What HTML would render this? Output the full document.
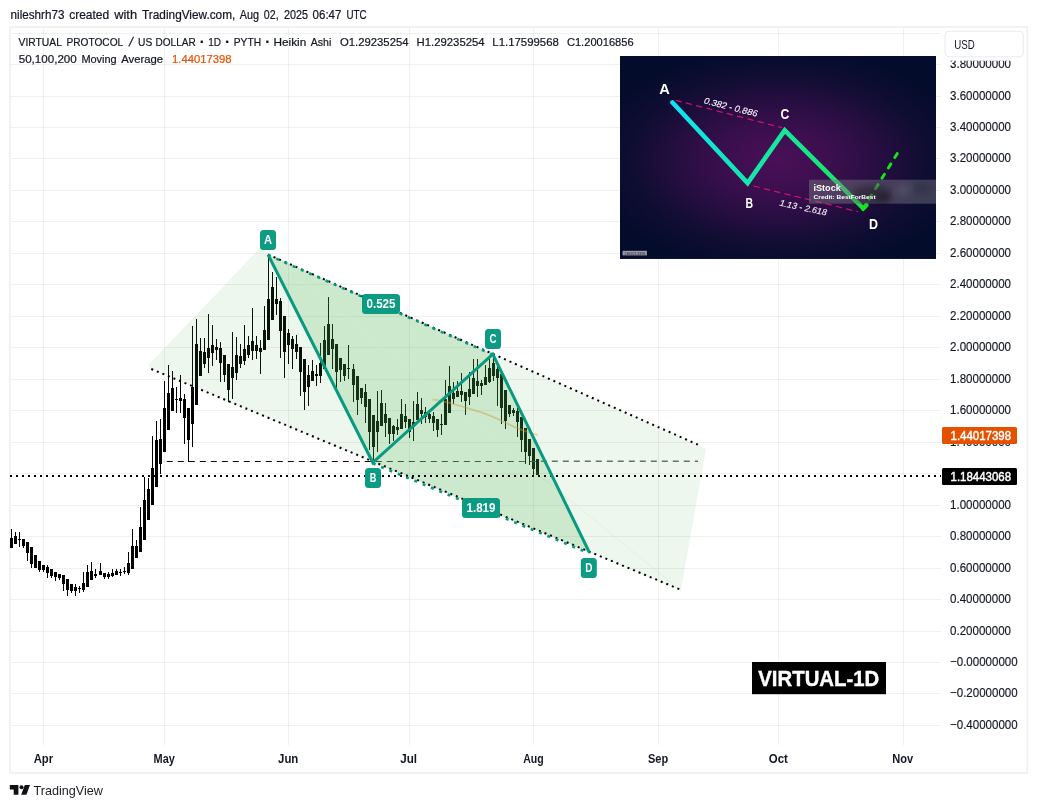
<!DOCTYPE html>
<html lang="en"><head><meta charset="utf-8"><title>VIRTUAL-1D</title>
<style>
html,body{margin:0;padding:0;background:#fff;}
body{width:1037px;height:808px;overflow:hidden;font-family:'Liberation Sans', sans-serif;}
svg{display:block;position:absolute;left:0;top:0;}
text{font-family:'Liberation Sans', sans-serif;}
</style></head><body>
<svg width="1037" height="808" viewBox="0 0 1037 808">
<defs>
<radialGradient id="bgInset" gradientUnits="userSpaceOnUse" cx="0" cy="0" r="1" gradientTransform="translate(779 160) scale(196 116)">
<stop offset="0" stop-color="#4a0f58"/><stop offset="0.25" stop-color="#3d0f4f"/><stop offset="0.5" stop-color="#280e42"/><stop offset="0.75" stop-color="#0f0d32"/><stop offset="1" stop-color="#030c2a"/>
</radialGradient>
<filter id="blur3" x="-30%" y="-30%" width="160%" height="160%"><feGaussianBlur stdDeviation="3"/></filter>
<linearGradient id="abcd" gradientUnits="userSpaceOnUse" x1="672" y1="0" x2="864" y2="0">
<stop offset="0" stop-color="#10e0fa"/><stop offset="0.12" stop-color="#12e4e0"/><stop offset="0.35" stop-color="#14e6b4"/><stop offset="0.6" stop-color="#16e896"/><stop offset="0.85" stop-color="#18e66a"/><stop offset="1" stop-color="#1ee23a"/>
</linearGradient>
<linearGradient id="dashg" gradientUnits="userSpaceOnUse" x1="166" y1="0" x2="698" y2="0">
<stop offset="0" stop-color="#0a0a0a"/><stop offset="0.388" stop-color="#0a0a0a"/><stop offset="0.39" stop-color="#2c3a2d"/><stop offset="0.70" stop-color="#3a4a3b"/><stop offset="0.71" stop-color="#66746a"/><stop offset="1" stop-color="#66746a"/>
</linearGradient>
<clipPath id="plot"><rect x="10" y="27" width="931" height="718"/></clipPath>
<clipPath id="axisclip"><rect x="941" y="60.8" width="86" height="700"/></clipPath>
<clipPath id="insetclip"><rect x="620" y="56" width="316" height="203"/></clipPath>
</defs>
<rect width="1037" height="808" fill="#ffffff"/>

<g fill="#000" fill-opacity="0.06" shape-rendering="crispEdges">
<rect x="11" y="33" width="930" height="1"/>
<rect x="11" y="64" width="930" height="1"/>
<rect x="11" y="96" width="930" height="1"/>
<rect x="11" y="127" width="930" height="1"/>
<rect x="11" y="158" width="930" height="1"/>
<rect x="11" y="190" width="930" height="1"/>
<rect x="11" y="221" width="930" height="1"/>
<rect x="11" y="253" width="930" height="1"/>
<rect x="11" y="284" width="930" height="1"/>
<rect x="11" y="316" width="930" height="1"/>
<rect x="11" y="347" width="930" height="1"/>
<rect x="11" y="379" width="930" height="1"/>
<rect x="11" y="410" width="930" height="1"/>
<rect x="11" y="442" width="930" height="1"/>
<rect x="11" y="473" width="930" height="1"/>
<rect x="11" y="505" width="930" height="1"/>
<rect x="11" y="536" width="930" height="1"/>
<rect x="11" y="568" width="930" height="1"/>
<rect x="11" y="599" width="930" height="1"/>
<rect x="11" y="631" width="930" height="1"/>
<rect x="11" y="662" width="930" height="1"/>
<rect x="11" y="693" width="930" height="1"/>
<rect x="11" y="725" width="930" height="1"/>
<rect x="43" y="28" width="1" height="717"/>
<rect x="164" y="28" width="1" height="717"/>
<rect x="288" y="28" width="1" height="717"/>
<rect x="409" y="28" width="1" height="717"/>
<rect x="533" y="28" width="1" height="717"/>
<rect x="658" y="28" width="1" height="717"/>
<rect x="778" y="28" width="1" height="717"/>
<rect x="903" y="28" width="1" height="717"/>
</g>
<g clip-path="url(#plot)" fill="#000" stroke="none" shape-rendering="crispEdges">
<rect x="11" y="529" width="1" height="19"/>
<rect x="10" y="538" width="3" height="10"/>
<rect x="15" y="532" width="1" height="12"/>
<rect x="14" y="536" width="3" height="8"/>
<rect x="19" y="532" width="1" height="15"/>
<rect x="18" y="539" width="3" height="1"/>
<rect x="23" y="539" width="1" height="9"/>
<rect x="22" y="539" width="3" height="7"/>
<rect x="27" y="542" width="1" height="19"/>
<rect x="26" y="542" width="3" height="11"/>
<rect x="31" y="547" width="1" height="21"/>
<rect x="30" y="547" width="3" height="17"/>
<rect x="35" y="555" width="1" height="13"/>
<rect x="34" y="555" width="3" height="13"/>
<rect x="39" y="561" width="1" height="11"/>
<rect x="38" y="561" width="3" height="9"/>
<rect x="43" y="565" width="1" height="7"/>
<rect x="42" y="565" width="3" height="5"/>
<rect x="47" y="565" width="1" height="13"/>
<rect x="46" y="567" width="3" height="6"/>
<rect x="51" y="569" width="1" height="9"/>
<rect x="50" y="569" width="3" height="7"/>
<rect x="55" y="572" width="1" height="9"/>
<rect x="54" y="572" width="3" height="5"/>
<rect x="59" y="574" width="1" height="6"/>
<rect x="58" y="574" width="3" height="4"/>
<rect x="63" y="575" width="1" height="16"/>
<rect x="62" y="575" width="3" height="9"/>
<rect x="67" y="579" width="1" height="17"/>
<rect x="66" y="579" width="3" height="11"/>
<rect x="71" y="584" width="1" height="9"/>
<rect x="70" y="584" width="3" height="7"/>
<rect x="75" y="584" width="1" height="12"/>
<rect x="74" y="587" width="3" height="4"/>
<rect x="79" y="586" width="1" height="7"/>
<rect x="78" y="588" width="3" height="1"/>
<rect x="83" y="572" width="1" height="20"/>
<rect x="82" y="583" width="3" height="7"/>
<rect x="87" y="565" width="1" height="22"/>
<rect x="86" y="572" width="3" height="15"/>
<rect x="91" y="562" width="1" height="18"/>
<rect x="90" y="571" width="3" height="9"/>
<rect x="95" y="569" width="1" height="9"/>
<rect x="94" y="574" width="3" height="2"/>
<rect x="100" y="563" width="1" height="12"/>
<rect x="99" y="571" width="3" height="4"/>
<rect x="104" y="573" width="1" height="6"/>
<rect x="103" y="573" width="3" height="4"/>
<rect x="108" y="572" width="1" height="7"/>
<rect x="107" y="574" width="3" height="3"/>
<rect x="112" y="569" width="1" height="8"/>
<rect x="111" y="573" width="3" height="3"/>
<rect x="116" y="569" width="1" height="6"/>
<rect x="115" y="571" width="3" height="4"/>
<rect x="120" y="569" width="1" height="7"/>
<rect x="119" y="572" width="3" height="1"/>
<rect x="124" y="567" width="1" height="7"/>
<rect x="123" y="571" width="3" height="1"/>
<rect x="128" y="552" width="1" height="23"/>
<rect x="127" y="563" width="3" height="10"/>
<rect x="132" y="529" width="1" height="40"/>
<rect x="131" y="546" width="3" height="23"/>
<rect x="136" y="540" width="1" height="18"/>
<rect x="135" y="546" width="3" height="12"/>
<rect x="140" y="507" width="1" height="45"/>
<rect x="139" y="527" width="3" height="25"/>
<rect x="144" y="477" width="1" height="63"/>
<rect x="143" y="500" width="3" height="40"/>
<rect x="148" y="478" width="1" height="42"/>
<rect x="147" y="489" width="3" height="31"/>
<rect x="152" y="436" width="1" height="69"/>
<rect x="151" y="468" width="3" height="37"/>
<rect x="156" y="421" width="1" height="66"/>
<rect x="155" y="440" width="3" height="47"/>
<rect x="160" y="419" width="1" height="55"/>
<rect x="159" y="439" width="3" height="25"/>
<rect x="164" y="381" width="1" height="71"/>
<rect x="163" y="408" width="3" height="44"/>
<rect x="168" y="365" width="1" height="65"/>
<rect x="167" y="393" width="3" height="37"/>
<rect x="172" y="371" width="1" height="40"/>
<rect x="171" y="388" width="3" height="23"/>
<rect x="176" y="387" width="1" height="26"/>
<rect x="175" y="399" width="3" height="1"/>
<rect x="180" y="375" width="1" height="38"/>
<rect x="179" y="398" width="3" height="3"/>
<rect x="184" y="394" width="1" height="50"/>
<rect x="183" y="399" width="3" height="19"/>
<rect x="188" y="408" width="1" height="54"/>
<rect x="187" y="408" width="3" height="32"/>
<rect x="192" y="326" width="1" height="121"/>
<rect x="191" y="387" width="3" height="37"/>
<rect x="196" y="319" width="1" height="86"/>
<rect x="195" y="344" width="3" height="61"/>
<rect x="200" y="338" width="1" height="38"/>
<rect x="199" y="351" width="3" height="25"/>
<rect x="204" y="338" width="1" height="30"/>
<rect x="203" y="352" width="3" height="12"/>
<rect x="208" y="314" width="1" height="59"/>
<rect x="207" y="348" width="3" height="10"/>
<rect x="212" y="325" width="1" height="41"/>
<rect x="211" y="345" width="3" height="8"/>
<rect x="216" y="339" width="1" height="21"/>
<rect x="215" y="347" width="3" height="3"/>
<rect x="220" y="342" width="1" height="40"/>
<rect x="219" y="348" width="3" height="15"/>
<rect x="224" y="355" width="1" height="27"/>
<rect x="223" y="355" width="3" height="20"/>
<rect x="228" y="364" width="1" height="38"/>
<rect x="227" y="364" width="3" height="26"/>
<rect x="232" y="332" width="1" height="67"/>
<rect x="231" y="367" width="3" height="11"/>
<rect x="236" y="337" width="1" height="43"/>
<rect x="235" y="355" width="3" height="18"/>
<rect x="240" y="344" width="1" height="24"/>
<rect x="239" y="356" width="3" height="8"/>
<rect x="244" y="325" width="1" height="40"/>
<rect x="243" y="349" width="3" height="12"/>
<rect x="248" y="336" width="1" height="22"/>
<rect x="247" y="345" width="3" height="10"/>
<rect x="252" y="308" width="1" height="52"/>
<rect x="251" y="341" width="3" height="10"/>
<rect x="256" y="336" width="1" height="23"/>
<rect x="255" y="345" width="3" height="6"/>
<rect x="260" y="340" width="1" height="34"/>
<rect x="259" y="348" width="3" height="4"/>
<rect x="264" y="306" width="1" height="44"/>
<rect x="263" y="330" width="3" height="20"/>
<rect x="268" y="256" width="1" height="84"/>
<rect x="267" y="299" width="3" height="41"/>
<rect x="272" y="272" width="1" height="48"/>
<rect x="271" y="287" width="3" height="33"/>
<rect x="276" y="277" width="1" height="38"/>
<rect x="275" y="299" width="3" height="5"/>
<rect x="280" y="298" width="1" height="60"/>
<rect x="279" y="301" width="3" height="30"/>
<rect x="284" y="316" width="1" height="62"/>
<rect x="283" y="316" width="3" height="36"/>
<rect x="288" y="329" width="1" height="35"/>
<rect x="287" y="333" width="3" height="12"/>
<rect x="292" y="336" width="1" height="33"/>
<rect x="291" y="339" width="3" height="10"/>
<rect x="296" y="335" width="1" height="24"/>
<rect x="295" y="344" width="3" height="8"/>
<rect x="300" y="347" width="1" height="49"/>
<rect x="299" y="347" width="3" height="25"/>
<rect x="304" y="359" width="1" height="51"/>
<rect x="303" y="359" width="3" height="33"/>
<rect x="308" y="365" width="1" height="41"/>
<rect x="307" y="375" width="3" height="12"/>
<rect x="312" y="360" width="1" height="21"/>
<rect x="311" y="371" width="3" height="10"/>
<rect x="316" y="365" width="1" height="21"/>
<rect x="315" y="374" width="3" height="2"/>
<rect x="320" y="343" width="1" height="40"/>
<rect x="319" y="363" width="3" height="13"/>
<rect x="324" y="326" width="1" height="43"/>
<rect x="323" y="340" width="3" height="29"/>
<rect x="328" y="297" width="1" height="58"/>
<rect x="327" y="324" width="3" height="31"/>
<rect x="332" y="324" width="1" height="45"/>
<rect x="331" y="339" width="3" height="10"/>
<rect x="336" y="344" width="1" height="44"/>
<rect x="335" y="344" width="3" height="28"/>
<rect x="340" y="358" width="1" height="24"/>
<rect x="339" y="358" width="3" height="12"/>
<rect x="344" y="364" width="1" height="17"/>
<rect x="343" y="364" width="3" height="12"/>
<rect x="348" y="345" width="1" height="34"/>
<rect x="347" y="368" width="3" height="1"/>
<rect x="353" y="364" width="1" height="38"/>
<rect x="352" y="369" width="3" height="16"/>
<rect x="357" y="376" width="1" height="39"/>
<rect x="356" y="376" width="3" height="24"/>
<rect x="361" y="388" width="1" height="16"/>
<rect x="360" y="388" width="3" height="10"/>
<rect x="365" y="384" width="1" height="39"/>
<rect x="364" y="392" width="3" height="15"/>
<rect x="369" y="399" width="1" height="51"/>
<rect x="368" y="399" width="3" height="33"/>
<rect x="373" y="415" width="1" height="47"/>
<rect x="372" y="415" width="3" height="32"/>
<rect x="377" y="391" width="1" height="61"/>
<rect x="376" y="421" width="3" height="11"/>
<rect x="381" y="390" width="1" height="36"/>
<rect x="380" y="403" width="3" height="23"/>
<rect x="385" y="403" width="1" height="34"/>
<rect x="384" y="414" width="3" height="9"/>
<rect x="389" y="418" width="1" height="26"/>
<rect x="388" y="418" width="3" height="16"/>
<rect x="393" y="425" width="1" height="16"/>
<rect x="392" y="426" width="3" height="8"/>
<rect x="397" y="419" width="1" height="16"/>
<rect x="396" y="427" width="3" height="3"/>
<rect x="401" y="399" width="1" height="30"/>
<rect x="400" y="414" width="3" height="15"/>
<rect x="405" y="404" width="1" height="24"/>
<rect x="404" y="416" width="3" height="6"/>
<rect x="409" y="419" width="1" height="19"/>
<rect x="408" y="419" width="3" height="13"/>
<rect x="413" y="401" width="1" height="40"/>
<rect x="412" y="422" width="3" height="5"/>
<rect x="417" y="392" width="1" height="28"/>
<rect x="416" y="404" width="3" height="16"/>
<rect x="421" y="398" width="1" height="26"/>
<rect x="420" y="410" width="3" height="4"/>
<rect x="425" y="407" width="1" height="16"/>
<rect x="424" y="412" width="3" height="5"/>
<rect x="429" y="413" width="1" height="10"/>
<rect x="428" y="414" width="3" height="5"/>
<rect x="433" y="412" width="1" height="19"/>
<rect x="432" y="416" width="3" height="7"/>
<rect x="437" y="419" width="1" height="18"/>
<rect x="436" y="419" width="3" height="11"/>
<rect x="441" y="414" width="1" height="21"/>
<rect x="440" y="424" width="3" height="1"/>
<rect x="445" y="380" width="1" height="45"/>
<rect x="444" y="399" width="3" height="26"/>
<rect x="449" y="366" width="1" height="47"/>
<rect x="448" y="386" width="3" height="27"/>
<rect x="453" y="382" width="1" height="22"/>
<rect x="452" y="393" width="3" height="6"/>
<rect x="457" y="381" width="1" height="16"/>
<rect x="456" y="391" width="3" height="6"/>
<rect x="461" y="373" width="1" height="29"/>
<rect x="460" y="391" width="3" height="4"/>
<rect x="465" y="392" width="1" height="23"/>
<rect x="464" y="392" width="3" height="9"/>
<rect x="469" y="372" width="1" height="33"/>
<rect x="468" y="389" width="3" height="8"/>
<rect x="473" y="359" width="1" height="35"/>
<rect x="472" y="378" width="3" height="16"/>
<rect x="477" y="359" width="1" height="38"/>
<rect x="476" y="381" width="3" height="5"/>
<rect x="481" y="380" width="1" height="15"/>
<rect x="480" y="383" width="3" height="3"/>
<rect x="485" y="365" width="1" height="20"/>
<rect x="484" y="377" width="3" height="8"/>
<rect x="489" y="358" width="1" height="25"/>
<rect x="488" y="368" width="3" height="14"/>
<rect x="493" y="354" width="1" height="27"/>
<rect x="492" y="363" width="3" height="13"/>
<rect x="497" y="366" width="1" height="40"/>
<rect x="496" y="369" width="3" height="9"/>
<rect x="501" y="374" width="1" height="50"/>
<rect x="500" y="374" width="3" height="34"/>
<rect x="505" y="390" width="1" height="39"/>
<rect x="504" y="390" width="3" height="31"/>
<rect x="509" y="405" width="1" height="12"/>
<rect x="508" y="405" width="3" height="9"/>
<rect x="513" y="408" width="1" height="8"/>
<rect x="512" y="410" width="3" height="3"/>
<rect x="517" y="408" width="1" height="29"/>
<rect x="516" y="411" width="3" height="11"/>
<rect x="521" y="417" width="1" height="35"/>
<rect x="520" y="417" width="3" height="23"/>
<rect x="525" y="428" width="1" height="36"/>
<rect x="524" y="428" width="3" height="24"/>
<rect x="529" y="439" width="1" height="26"/>
<rect x="528" y="439" width="3" height="17"/>
<rect x="533" y="448" width="1" height="29"/>
<rect x="532" y="448" width="3" height="21"/>
<rect x="537" y="459" width="1" height="16"/>
<rect x="536" y="459" width="3" height="16"/>
</g>
<line x1="166.8" y1="461.5" x2="540" y2="461.5" stroke="url(#dashg)" stroke-width="1.1" stroke-dasharray="6 5"/>
<line x1="540.8" y1="461.3" x2="698" y2="461.3" stroke="#627066" stroke-width="1.6" stroke-dasharray="6 5"/>
<path d="M432.6 399.4 L438.7 400.5 L447.3 402.4 L456 404.8 L464.7 407.2 L473.3 409.8 L482 412.6 L490.7 415.9 L499.3 419.6 L504.7 422.3 L513 426.3 L522 430 L530 432.8 L537.6 435" fill="none" stroke="#ff963c" stroke-opacity="0.42" stroke-width="1.9" stroke-linejoin="round"/>
<polygon points="148.4,365.1 261,247 268.3,254 706,448.9 680.8,590.5 150.5,368.6" fill="#4caf50" fill-opacity="0.10"/>
<polygon points="268.0,254.5 372.8,462.5 492.8,354.2" fill="#4caf50" fill-opacity="0.2"/>
<polygon points="372.8,462.5 492.8,354.2 589.4,552.5" fill="#4caf50" fill-opacity="0.2"/>
<line x1="268.3" y1="254.5" x2="541" y2="476.6" stroke="#ffffff" stroke-opacity="0.12" stroke-width="1"/>
<line x1="541" y1="476.6" x2="680.8" y2="590.5" stroke="#4caf50" stroke-opacity="0.07" stroke-width="1"/>
<g stroke="#000" stroke-width="2" stroke-dasharray="2 4" fill="none">
<line x1="268.1" y1="254.5" x2="700.5" y2="445.8"/>
<line x1="151.3" y1="369" x2="679.8" y2="589.4"/>
<line x1="10" y1="475.9" x2="941" y2="475.9"/>
</g>
<g stroke="#089981" stroke-width="2.6" stroke-dasharray="3 6" fill="none">
<line x1="268.0" y1="255.0" x2="492.8" y2="354.7"/>
<line x1="372.8" y1="463.4" x2="589.4" y2="553.4"/>
</g>
<polyline points="268.0,254.5 372.8,462.5 492.8,354.2 589.4,552.5" fill="none" stroke="#089981" stroke-width="3" stroke-linejoin="miter"/>
<rect x="260" y="230" width="16" height="20" rx="3.5" fill="#089981" fill-opacity="0.98"/>
<text x="268.0" y="244.1" text-anchor="middle" font-size="12" font-weight="700" fill="#fff" textLength="8" lengthAdjust="spacingAndGlyphs">A</text>
<rect x="365" y="468" width="16" height="20" rx="3.5" fill="#089981" fill-opacity="0.98"/>
<text x="373.0" y="482.1" text-anchor="middle" font-size="12" font-weight="700" fill="#fff" textLength="6.6" lengthAdjust="spacingAndGlyphs">B</text>
<rect x="485" y="329" width="16" height="20" rx="3.5" fill="#089981" fill-opacity="0.98"/>
<text x="493.0" y="343.1" text-anchor="middle" font-size="12" font-weight="700" fill="#fff" textLength="7" lengthAdjust="spacingAndGlyphs">C</text>
<rect x="580.8" y="558" width="16" height="20" rx="3.5" fill="#089981" fill-opacity="0.98"/>
<text x="588.8" y="572.1" text-anchor="middle" font-size="12" font-weight="700" fill="#fff" textLength="7.2" lengthAdjust="spacingAndGlyphs">D</text>
<rect x="362" y="294" width="38" height="20" rx="3.5" fill="#089981" fill-opacity="0.98"/>
<text x="381.0" y="308.1" text-anchor="middle" font-size="12" font-weight="700" fill="#fff" textLength="29" lengthAdjust="spacingAndGlyphs">0.525</text>
<rect x="462" y="498" width="38" height="20" rx="3.5" fill="#089981" fill-opacity="0.98"/>
<text x="481.0" y="512.1" text-anchor="middle" font-size="12" font-weight="700" fill="#fff" textLength="29" lengthAdjust="spacingAndGlyphs">1.819</text>
<rect x="752" y="662" width="134" height="32.2" fill="#000"/>
<text x="818.8" y="685.8" text-anchor="middle" font-size="22.2" font-weight="700" fill="#fff" stroke="#fff" stroke-width="0.4" textLength="121" lengthAdjust="spacingAndGlyphs">VIRTUAL-1D</text>
<g clip-path="url(#insetclip)">
<rect x="620" y="56" width="316.3" height="202.8" fill="#030b27"/>
<rect x="620" y="56" width="316.3" height="202.8" fill="url(#bgInset)"/>
<g stroke="#d0106a" stroke-width="1.25" stroke-dasharray="6.3 4.3" fill="none"><line x1="675.5" y1="100.3" x2="782" y2="127.6"/><line x1="753.5" y1="186" x2="858" y2="211.7"/></g>
<polyline points="672.5,102.5 747.6,183 784.7,130.4 863.3,208.3 866.3,205.2" fill="none" stroke="url(#abcd)" stroke-width="4.6" stroke-linecap="round" stroke-linejoin="miter"/>
<line x1="897.6" y1="153" x2="862" y2="210.6" stroke="#12ea12" stroke-width="2.9" stroke-linecap="round" stroke-dasharray="4.8 7.4" stroke-dashoffset="-0.6"/>
<rect x="809" y="179.7" width="128" height="24" fill="#787882" fill-opacity="0.46"/>
<g filter="url(#blur3)"><ellipse cx="872" cy="194" rx="20" ry="9" fill="#000" fill-opacity="0.30"/><ellipse cx="884" cy="199" rx="7" ry="5" fill="#000" fill-opacity="0.3"/><ellipse cx="922" cy="188" rx="10" ry="7" fill="#000" fill-opacity="0.14"/><ellipse cx="903" cy="190" rx="6" ry="6" fill="#fff" fill-opacity="0.08"/></g>
<g fill="#fff" font-weight="700">
<text x="659.2" y="94" font-size="14.5" textLength="10.6" lengthAdjust="spacingAndGlyphs">A</text>
<text x="745.5" y="208.3" font-size="14.5" textLength="7.6" lengthAdjust="spacingAndGlyphs">B</text>
<text x="780.6" y="119.2" font-size="14.5" textLength="8.8" lengthAdjust="spacingAndGlyphs">C</text>
<text x="869" y="229.3" font-size="14.5" textLength="9" lengthAdjust="spacingAndGlyphs">D</text>
<text x="813.4" y="190.8" font-size="9.4" textLength="27.5" lengthAdjust="spacingAndGlyphs">iStock</text>
<text x="813.6" y="198.8" font-size="5.6" textLength="62" lengthAdjust="spacingAndGlyphs">Credit: BestForBest</text>
</g>
<g fill="#f6f0fa" stroke="#f6f0fa" stroke-width="0.12" font-style="italic" font-size="8.8">
<text transform="translate(703.4,103.3) rotate(14.2)" textLength="55" lengthAdjust="spacingAndGlyphs">0.382 - 0.886</text>
<text transform="translate(779.2,205.6) rotate(12)" textLength="48" lengthAdjust="spacingAndGlyphs">1.13 - 2.618</text>
</g>
<rect x="622.6" y="250.8" width="24.3" height="4.6" fill="#b6b6c2" fill-opacity="0.85"/>
<text x="624" y="254.6" font-size="3.6" fill="#222" textLength="21.5" lengthAdjust="spacingAndGlyphs">1366213396</text>
</g>
<rect x="10" y="27" width="1017.3" height="746" fill="none" stroke="#000" stroke-opacity="0.05" stroke-width="2"/>
<g font-size="12.6" fill="#131722" stroke="#131722" stroke-width="0.15" clip-path="url(#axisclip)">
<text x="950" y="67.9" textLength="61" lengthAdjust="spacingAndGlyphs">3.80000000</text>
<text x="950" y="99.9" textLength="61" lengthAdjust="spacingAndGlyphs">3.60000000</text>
<text x="950" y="130.9" textLength="61" lengthAdjust="spacingAndGlyphs">3.40000000</text>
<text x="950" y="161.9" textLength="61" lengthAdjust="spacingAndGlyphs">3.20000000</text>
<text x="950" y="193.9" textLength="61" lengthAdjust="spacingAndGlyphs">3.00000000</text>
<text x="950" y="224.9" textLength="61" lengthAdjust="spacingAndGlyphs">2.80000000</text>
<text x="950" y="256.9" textLength="61" lengthAdjust="spacingAndGlyphs">2.60000000</text>
<text x="950" y="287.9" textLength="61" lengthAdjust="spacingAndGlyphs">2.40000000</text>
<text x="950" y="319.9" textLength="61" lengthAdjust="spacingAndGlyphs">2.20000000</text>
<text x="950" y="350.9" textLength="61" lengthAdjust="spacingAndGlyphs">2.00000000</text>
<text x="950" y="382.9" textLength="61" lengthAdjust="spacingAndGlyphs">1.80000000</text>
<text x="950" y="413.9" textLength="61" lengthAdjust="spacingAndGlyphs">1.60000000</text>
<text x="950" y="445.9" textLength="61" lengthAdjust="spacingAndGlyphs">1.40000000</text>
<text x="950" y="508.9" textLength="61" lengthAdjust="spacingAndGlyphs">1.00000000</text>
<text x="950" y="539.9" textLength="61" lengthAdjust="spacingAndGlyphs">0.80000000</text>
<text x="950" y="571.9" textLength="61" lengthAdjust="spacingAndGlyphs">0.60000000</text>
<text x="950" y="602.9" textLength="61" lengthAdjust="spacingAndGlyphs">0.40000000</text>
<text x="950" y="634.9" textLength="61" lengthAdjust="spacingAndGlyphs">0.20000000</text>
<text x="950" y="665.9" textLength="67.6" lengthAdjust="spacingAndGlyphs">−0.00000000</text>
<text x="950" y="696.9" textLength="67.6" lengthAdjust="spacingAndGlyphs">−0.20000000</text>
<text x="950" y="728.9" textLength="67.6" lengthAdjust="spacingAndGlyphs">−0.40000000</text>
</g>
<rect x="945" y="31.2" width="78.3" height="25.6" rx="4" fill="#fff" stroke="#e8eaee" stroke-width="1"/>
<text x="954.2" y="48.7" font-size="12" fill="#131722" textLength="20.5" lengthAdjust="spacingAndGlyphs">USD</text>
<rect x="942" y="427" width="75" height="17" rx="1.5" fill="#e65100"/>
<text x="950.5" y="439.9" font-size="12.6" fill="#fff" textLength="60.6" lengthAdjust="spacingAndGlyphs" stroke="#fff" stroke-width="0.45">1.44017398</text>
<rect x="942" y="468" width="75" height="17" rx="1.5" fill="#000"/>
<text x="950.5" y="480.9" font-size="12.6" fill="#fff" textLength="60.6" lengthAdjust="spacingAndGlyphs" stroke="#fff" stroke-width="0.45">1.18443068</text>
<g font-size="12" font-weight="700" fill="#131722" text-anchor="middle">
<text x="43.4" y="763.1" textLength="19.5" lengthAdjust="spacingAndGlyphs">Apr</text>
<text x="164.2" y="763.1" textLength="21.3" lengthAdjust="spacingAndGlyphs">May</text>
<text x="288.2" y="763.1" textLength="20.3" lengthAdjust="spacingAndGlyphs">Jun</text>
<text x="408.6" y="763.1" textLength="16.8" lengthAdjust="spacingAndGlyphs">Jul</text>
<text x="533.5" y="763.1" textLength="20.5" lengthAdjust="spacingAndGlyphs">Aug</text>
<text x="658.1" y="763.1" textLength="20.2" lengthAdjust="spacingAndGlyphs">Sep</text>
<text x="778.3" y="763.1" textLength="19.1" lengthAdjust="spacingAndGlyphs">Oct</text>
<text x="902.7" y="763.1" textLength="20.9" lengthAdjust="spacingAndGlyphs">Nov</text>
</g>
<g font-size="13" fill="#131722" stroke="#131722" stroke-width="0.22">
<text x="10.6" y="18.6" font-size="12.4" textLength="53.8" lengthAdjust="spacingAndGlyphs">nileshrh73</text>
<text x="69.2" y="18.6" font-size="12.4" textLength="40.0" lengthAdjust="spacingAndGlyphs">created</text>
<text x="114.2" y="18.6" font-size="12.4" textLength="22.9" lengthAdjust="spacingAndGlyphs">with</text>
<text x="142.1" y="18.6" font-size="12.4" textLength="93.2" lengthAdjust="spacingAndGlyphs">TradingView.com,</text>
<text x="239.7" y="18.6" font-size="12.4" textLength="19.3" lengthAdjust="spacingAndGlyphs">Aug</text>
<text x="263.8" y="18.6" font-size="12.4" textLength="14.8" lengthAdjust="spacingAndGlyphs">02,</text>
<text x="284" y="18.6" font-size="12.4" textLength="24.0" lengthAdjust="spacingAndGlyphs">2025</text>
<text x="312.6" y="18.6" font-size="12.4" textLength="28.8" lengthAdjust="spacingAndGlyphs">06:47</text>
<text x="346.4" y="18.6" font-size="12.4" textLength="20.2" lengthAdjust="spacingAndGlyphs">UTC</text>
<text x="18.6" y="45.6" font-size="11.8" textLength="43.3" lengthAdjust="spacingAndGlyphs">VIRTUAL</text>
<text x="66.5" y="45.6" font-size="11.8" textLength="56.7" lengthAdjust="spacingAndGlyphs">PROTOCOL</text>
<text x="138.1" y="45.6" font-size="11.8" textLength="14.2" lengthAdjust="spacingAndGlyphs">US</text>
<text x="155.6" y="45.6" font-size="11.8" textLength="40.1" lengthAdjust="spacingAndGlyphs">DOLLAR</text>
<text x="208.3" y="45.6" font-size="11.8" textLength="12.8" lengthAdjust="spacingAndGlyphs">1D</text>
<text x="233.8" y="45.6" font-size="11.8" textLength="27.3" lengthAdjust="spacingAndGlyphs">PYTH</text>
<text x="273.5" y="45.6" font-size="11.8" textLength="32.8" lengthAdjust="spacingAndGlyphs">Heikin</text>
<text x="310.7" y="45.6" font-size="11.8" textLength="20.6" lengthAdjust="spacingAndGlyphs">Ashi</text>
<text x="340" y="45.6" font-size="11.8" textLength="68.5" lengthAdjust="spacingAndGlyphs">O1.29235254</text>
<text x="416.6" y="45.6" font-size="11.8" textLength="68.0" lengthAdjust="spacingAndGlyphs">H1.29235254</text>
<text x="492.3" y="45.6" font-size="11.8" textLength="66.5" lengthAdjust="spacingAndGlyphs">L1.17599568</text>
<text x="566.9" y="45.6" font-size="11.8" textLength="66.8" lengthAdjust="spacingAndGlyphs">C1.20016856</text>
<text x="128.6" y="45.6" font-size="12.5" transform="translate(128.6 45.6) skewX(-12) translate(-128.6 -45.6)">/</text>
<text x="202.2" y="46.7" font-size="15" font-weight="700" text-anchor="middle">·</text>
<text x="227.5" y="46.7" font-size="15" font-weight="700" text-anchor="middle">·</text>
<text x="267.8" y="46.7" font-size="15" font-weight="700" text-anchor="middle">·</text>
<text x="18.7" y="62.5" font-size="11.8" textLength="58.1" lengthAdjust="spacingAndGlyphs">50,100,200</text>
<text x="81.4" y="62.5" font-size="11.8" textLength="35.3" lengthAdjust="spacingAndGlyphs">Moving</text>
<text x="121.2" y="62.5" font-size="11.8" textLength="41.9" lengthAdjust="spacingAndGlyphs">Average</text>
<g stroke="#e65100">
<text x="172.1" y="62.5" font-size="11.8" fill="#e65100" textLength="59.5" lengthAdjust="spacingAndGlyphs">1.44017398</text>
</g>
</g>
<g fill="#0f1014">
<path d="M9.8 785 H18.4 V794.7 H13.7 V789.4 H9.8 Z"/>
<circle cx="21.5" cy="787.15" r="2.0"/>
<path d="M24.8 785 H30 L26.4 794.7 H21.2 Z"/>
</g>
<text x="33.5" y="794.7" font-size="13.6" fill="#1c1d22" textLength="69.5" lengthAdjust="spacingAndGlyphs">TradingView</text>
</svg>
</body></html>
